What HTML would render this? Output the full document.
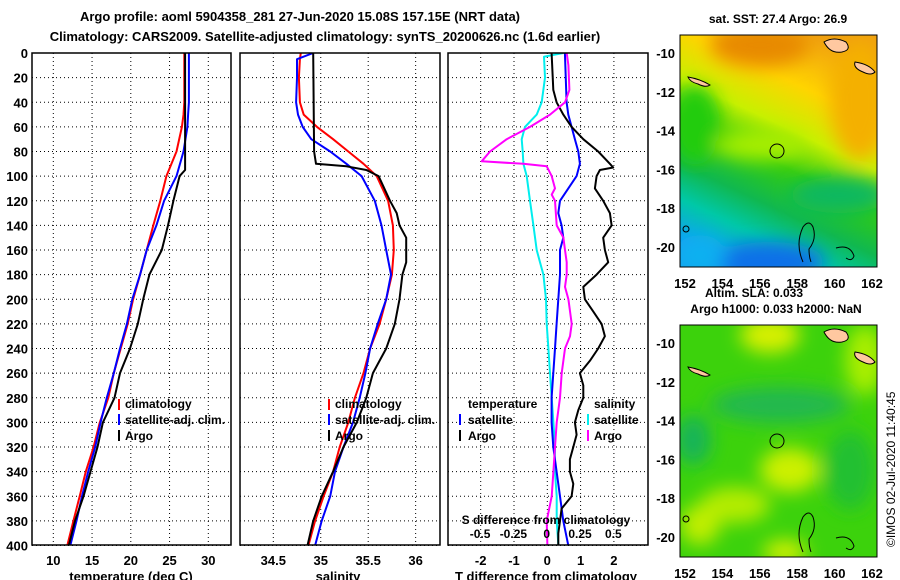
<!DOCTYPE html>
<html><head><meta charset="utf-8"><style>
html,body{margin:0;padding:0;background:#fff;}
svg{display:block;font-family:"Liberation Sans",Arial,sans-serif;font-weight:bold;}
</style></head><body>
<svg id="chart" width="900" height="580" viewBox="0 0 900 580" xmlns="http://www.w3.org/2000/svg">
<defs>
<filter id="blur8" x="-50%" y="-50%" width="200%" height="200%"><feGaussianBlur stdDeviation="9"/></filter>
<clipPath id="c1"><rect x="32" y="53" width="199" height="492"/></clipPath>
<clipPath id="c2"><rect x="240" y="53" width="200" height="492"/></clipPath>
<clipPath id="c3"><rect x="448" y="53" width="200" height="492"/></clipPath>
<clipPath id="m1"><rect x="680" y="35" width="197" height="232"/></clipPath>
<clipPath id="m2"><rect x="680" y="325" width="197" height="232"/></clipPath>
<linearGradient id="sstg" x1="0.7" y1="0" x2="0.3" y2="1">
<stop offset="0" stop-color="#f0a010"/><stop offset="0.22" stop-color="#ffd400"/><stop offset="0.4" stop-color="#c8f000"/><stop offset="0.55" stop-color="#33cc10"/><stop offset="0.72" stop-color="#10b850"/><stop offset="0.85" stop-color="#00c8a8"/><stop offset="1" stop-color="#10a0f0"/>
</linearGradient>
</defs>
<text x="300" y="21" font-size="13" text-anchor="middle">Argo profile: aoml 5904358_281 27-Jun-2020 15.08S 157.15E (NRT data)</text>
<text x="325" y="41" font-size="13" text-anchor="middle">Climatology: CARS2009. Satellite-adjusted climatology: synTS_20200626.nc (1.6d earlier)</text>
<g id="grids"></g>
<g id="series"></g>
<rect x="32" y="53" width="199" height="492" fill="none" stroke="#000" stroke-width="1.5"/>
<rect x="240" y="53" width="200" height="492" fill="none" stroke="#000" stroke-width="1.5"/>
<rect x="448" y="53" width="200" height="492" fill="none" stroke="#000" stroke-width="1.5"/>
<g id="labels" font-size="13"></g>
<text x="131" y="581" font-size="13" text-anchor="middle">temperature (deg C)</text>
<text x="338" y="581" font-size="13" text-anchor="middle">salinity</text>
<text x="546" y="581" font-size="13" text-anchor="middle">T difference from climatology</text>
<text x="546" y="524" font-size="12" text-anchor="middle">S difference from climatology</text>
<g font-size="12">
<rect x="118" y="399" width="2" height="11" fill="#f00"/><text x="125" y="408">climatology</text>
<rect x="118" y="414" width="2" height="11" fill="#00f"/><text x="125" y="424">satellite-adj. clim.</text>
<rect x="118" y="430" width="2" height="11" fill="#000"/><text x="125" y="440">Argo</text>
</g>
<g font-size="12">
<rect x="328" y="399" width="2" height="11" fill="#f00"/><text x="335" y="408">climatology</text>
<rect x="328" y="414" width="2" height="11" fill="#00f"/><text x="335" y="424">satellite-adj. clim.</text>
<rect x="328" y="430" width="2" height="11" fill="#000"/><text x="335" y="440">Argo</text>
</g>
<g font-size="12">
<text x="468" y="408">temperature</text>
<rect x="459" y="414" width="2" height="11" fill="#00f"/><text x="468" y="424">satellite</text>
<rect x="459" y="430" width="2" height="11" fill="#000"/><text x="468" y="440">Argo</text>
<text x="594" y="408">salinity</text>
<rect x="587" y="414" width="2" height="11" fill="#0ee"/><text x="594" y="424">satellite</text>
<rect x="587" y="430" width="2" height="11" fill="#f0f"/><text x="594" y="440">Argo</text>
</g>

<!-- SST map -->
<text x="778" y="23" font-size="12" text-anchor="middle">sat. SST: 27.4 Argo: 26.9</text>
<g clip-path="url(#m1)">
<rect x="680" y="35" width="197" height="232" fill="url(#sstg)"/>
<g filter="url(#blur8)">
<ellipse cx="760" cy="45" rx="50" ry="22" fill="#e88a00"/>
<ellipse cx="860" cy="100" rx="30" ry="60" fill="#f4b000"/>
<ellipse cx="695" cy="125" rx="25" ry="40" fill="#22cc10"/>
<ellipse cx="760" cy="145" rx="45" ry="15" fill="#a8ee00"/>
<ellipse cx="840" cy="195" rx="50" ry="18" fill="#10b860"/>
<ellipse cx="770" cy="262" rx="55" ry="20" fill="#1070e8"/>
<ellipse cx="700" cy="255" rx="25" ry="20" fill="#10b0f0"/>
</g>
</g>
<g fill="#ffc8a0" stroke="#000" stroke-width="1">
<path d="M824 42 q10 -6 22 0 q6 8 -4 10 q-12 2 -18 -10z"/>
<path d="M855 62 q14 2 20 10 q-4 4 -12 0 q-10 -4 -8 -10z"/>
<path d="M688 77 q12 2 22 8 q-4 3 -12 -1 q-8 -2 -10 -7z"/>
<circle cx="777" cy="151" r="7" fill="none"/>
<path d="M803 262 q-8 -18 0 -35 q6 -8 10 0 q4 12 -4 22 q0 8 2 13" fill="none"/>
<path d="M836 248 q14 -4 18 8 q-2 6 -8 2" fill="none"/>
<circle cx="686" cy="229" r="3" fill="none"/>
</g>
<rect x="680" y="35" width="197" height="232" fill="none" stroke="#000" stroke-width="1"/>
<text x="754" y="297" font-size="12" text-anchor="middle">Altim. SLA: 0.033</text>

<!-- SLA map -->
<text x="776" y="313" font-size="12" text-anchor="middle">Argo h1000: 0.033 h2000: NaN</text>
<g clip-path="url(#m2)">
<rect x="680" y="325" width="197" height="232" fill="#3cd20c"/>
<g filter="url(#blur8)">
<ellipse cx="770" cy="335" rx="30" ry="18" fill="#d8f000"/>
<ellipse cx="865" cy="360" rx="20" ry="35" fill="#a8ee00"/>
<ellipse cx="780" cy="405" rx="70" ry="18" fill="#20b850"/>
<ellipse cx="693" cy="440" rx="18" ry="25" fill="#18b458"/>
<ellipse cx="790" cy="470" rx="30" ry="22" fill="#ccf000"/>
<ellipse cx="735" cy="505" rx="35" ry="18" fill="#b4ec00"/>
<ellipse cx="700" cy="525" rx="20" ry="20" fill="#c0ee00"/>
<ellipse cx="785" cy="552" rx="22" ry="12" fill="#d0f000"/>
<ellipse cx="850" cy="470" rx="25" ry="40" fill="#20c030"/>
</g>
</g>
<g fill="#ffc8a0" stroke="#000" stroke-width="1">
<path d="M824 332 q10 -6 22 0 q6 8 -4 10 q-12 2 -18 -10z"/>
<path d="M855 352 q14 2 20 10 q-4 4 -12 0 q-10 -4 -8 -10z"/>
<path d="M688 367 q12 2 22 8 q-4 3 -12 -1 q-8 -2 -10 -7z"/>
<circle cx="777" cy="441" r="7" fill="none"/>
<path d="M803 552 q-8 -18 0 -35 q6 -8 10 0 q4 12 -4 22 q0 8 2 13" fill="none"/>
<path d="M836 538 q14 -4 18 8 q-2 6 -8 2" fill="none"/>
<circle cx="686" cy="519" r="3" fill="none"/>
</g>
<rect x="680" y="325" width="197" height="232" fill="none" stroke="#000" stroke-width="1"/>
<text transform="translate(895,547) rotate(-90)" font-size="12" font-weight="normal">©IMOS 02-Jul-2020 11:40:45</text>
</svg>
<script>
// ---------- data ----------
const depthTicks = [0,20,40,60,80,100,120,140,160,180,200,220,240,260,280,300,320,340,360,380,400];
const tempTicks = [10,15,20,25,30];
const salTicks = [34.5,35,35.5,36];
const salTickLabels = ["34.5","35","35.5","36"];
const tdiffTicks = [-2,-1,0,1,2];
const sdiffTicks = [-0.5,-0.25,0,0.25,0.5];
const latTicks = [-10,-12,-14,-16,-18,-20];
const lonTicks = [152,154,156,158,160,162];

const stdDepths = [0,20,40,50,60,80,100,120,140,160,180,200,220,240,260,280,300,320,340,360,380,400];
const tempClim = [26.9,26.9,26.9,26.8,26.6,25.9,24.6,23.8,22.9,22.05,21.2,20.3,19.6,18.7,17.8,17.1,16.0,15.2,14.2,13.4,12.6,11.8];
const tempSat  = [27.5,27.5,27.5,27.4,27.3,26.8,25.9,24.3,23.3,22.05,21.2,20.2,19.5,18.6,17.8,16.9,16.1,15.4,14.5,13.7,13.0,12.2];
const argoTDepths = [0,90,95,100,120,140,160,180,200,220,240,260,280,300,320,340,360,380,400];
const tempArgo = [27.0,27.0,27.0,26.3,25.5,24.8,24.0,22.4,21.6,20.9,19.9,18.6,17.9,16.4,15.7,14.8,13.9,12.8,12.0];

const salDepths = [0,5,20,40,50,60,70,80,90,100,120,140,160,180,200,220,240,260,280,300,320,340,360,380,400];
const salClim = [34.79,34.78,34.77,34.78,34.82,34.96,35.13,35.29,35.45,35.59,35.71,35.76,35.77,35.75,35.69,35.62,35.52,35.45,35.36,35.29,35.20,35.13,35.03,34.94,34.87];
const salSat  = [34.92,34.75,34.75,34.74,34.76,34.81,34.90,35.10,35.27,35.43,35.57,35.64,35.69,35.74,35.69,35.60,35.52,35.47,35.41,35.34,35.24,35.15,35.10,35.01,34.94];
const argoSDepths = [0,80,90,92,95,100,120,130,140,150,170,180,200,220,240,260,280,300,320,340,360,380,400];
const salArgo = [34.92,34.93,34.95,35.27,35.48,35.61,35.73,35.80,35.83,35.90,35.90,35.86,35.83,35.78,35.69,35.55,35.48,35.38,35.24,35.13,35.01,34.92,34.86];

const tdSatDepths = [0,40,50,60,70,80,90,100,110,120,130,140,150,160,180,200,220,240,260,280,300,320,340,360,380,400];
const tdSat = [0.53,0.58,0.63,0.73,0.83,0.93,0.98,0.88,0.63,0.38,0.33,0.43,0.48,0.38,0.38,0.33,0.28,0.23,0.18,0.13,0.13,0.18,0.28,0.38,0.48,0.63];
const tdArgoDepths = [0,30,40,50,60,70,80,90,93,95,100,110,120,130,140,150,160,170,180,190,200,210,220,230,240,250,260,270,280,290,300,310,320,330,340,350,360,370,380,390,400];
const tdArgo = [0.13,0.18,0.28,0.48,0.73,1.08,1.53,1.88,1.98,1.58,1.48,1.43,1.68,1.88,1.93,1.68,1.73,1.83,1.48,1.08,1.13,1.38,1.63,1.73,1.53,1.28,0.98,1.08,1.08,0.93,0.83,0.88,0.78,0.68,0.68,0.78,0.73,0.43,0.38,0.33,0.33];
const sdSatDepths = [0,3,20,40,50,60,70,80,90,100,120,140,160,170,180,200,220,240,260,280,300,320,340,360,380,400];
const sdSat = [0.125,-0.02,-0.0125,-0.0375,-0.075,-0.1625,-0.1875,-0.18,-0.175,-0.15,-0.125,-0.1,-0.075,-0.05,-0.025,-0.005,0,0.0125,0.025,0.0375,0.05,0.0625,0.0625,0.075,0.075,0.0875];
const sdArgoDepths = [0,10,30,40,50,60,70,80,88,90,92,100,110,115,120,140,150,160,170,180,190,200,220,230,240,260,280,300,320,340,360,380,400];
const sdArgo = [0.15,0.1625,0.17,0.1375,0.025,-0.125,-0.3,-0.425,-0.4875,-0.175,0,0.0375,0.0625,0.0375,0.0625,0.075,0.125,0.1375,0.15,0.15,0.1375,0.1625,0.1875,0.175,0.1375,0.1125,0.1,0.075,0.0625,0.05,0.0375,0,0.005];

// ---------- scales ----------
const NS = "http://www.w3.org/2000/svg";
const yD = d => 53 + d * (492.5 / 400);
const xT = v => 53.3 + (v - 10) * 7.75;
const xS = v => 273.3 + (v - 34.5) * 94.9;
const xTd = v => 547.3 + v * 33.3;
const xSd = v => 546.7 + v * 133.3;
const yLat1 = v => 53 + (-10 - v) * 19.4;
const yLat2 = v => 343 + (-10 - v) * 19.4;
const xLon = v => 685 + (v - 152) * 18.7;

function mk(tag, attrs, parent) {
  const e = document.createElementNS(NS, tag);
  for (const k in attrs) e.setAttribute(k, attrs[k]);
  parent.appendChild(e);
  return e;
}
const grids = document.getElementById('grids');
const series = document.getElementById('series');
const labels = document.getElementById('labels');

const panels = [[32,231,tempTicks.map(xT)],[240,440,salTicks.map(xS)],[448,648,tdiffTicks.map(xTd)]];
panels.forEach(p => {
  depthTicks.forEach(d => {
    const l = mk('line', {x1:p[0], x2:p[1], y1:yD(d), y2:yD(d), stroke:'#000', 'stroke-width':1, 'stroke-dasharray':'1,3'}, grids);
    
    
  });
  p[2].forEach(x => {
    const l = mk('line', {x1:x, x2:x, y1:53, y2:545, stroke:'#000', 'stroke-width':1, 'stroke-dasharray':'1,3'}, grids);
    
    
  });
});

function line(depths, vals, xf, color, clip, name) {
  const pts = depths.map((d, i) => xf(vals[i]).toFixed(1) + ',' + yD(d).toFixed(1)).join(' ');
  const pl = mk('polyline', {points: pts, fill:'none', stroke:color, 'stroke-width':2, 'clip-path':'url(#' + clip + ')', 'stroke-linejoin':'round'}, series);
  
  
}
line(stdDepths, tempClim, xT, '#f00', 'c1', 'temperature-climatology-line');
line(stdDepths, tempSat, xT, '#00f', 'c1', 'temperature-satellite-line');
line(argoTDepths, tempArgo, xT, '#000', 'c1', 'temperature-argo-line');
line(salDepths, salClim, xS, '#f00', 'c2', 'salinity-climatology-line');
line(salDepths, salSat, xS, '#00f', 'c2', 'salinity-satellite-line');
line(argoSDepths, salArgo, xS, '#000', 'c2', 'salinity-argo-line');
line(sdSatDepths, sdSat, xSd, '#0ee', 'c3', 's-diff-satellite-line');
line(tdSatDepths, tdSat, xTd, '#00f', 'c3', 't-diff-satellite-line');
line(tdArgoDepths, tdArgo, xTd, '#000', 'c3', 't-diff-argo-line');
line(sdArgoDepths, sdArgo, xSd, '#f0f', 'c3', 's-diff-argo-line');

function txt(x, y, s, anchor, name, size) {
  const t = mk('text', {x:x, y:y, 'text-anchor':anchor}, labels);
  if (size) t.setAttribute('font-size', size);
  t.textContent = s;
  
  
}
depthTicks.forEach(d => txt(28, yD(d) + 5, String(d), 'end', 'depth-tick-label'));
tempTicks.forEach(v => txt(xT(v), 565, String(v), 'middle', 'temperature-tick-label'));
salTicks.forEach((v, i) => txt(xS(v), 565, salTickLabels[i], 'middle', 'salinity-tick-label'));
tdiffTicks.forEach(v => txt(xTd(v), 565, String(v), 'middle', 't-diff-tick-label'));
sdiffTicks.forEach(v => txt(xSd(v), 538, String(v), 'middle', 's-diff-tick-label', 12));
latTicks.forEach(v => txt(675, yLat1(v) + 5, String(v), 'end', 'sst-lat-label'));
latTicks.forEach(v => txt(675, yLat2(v) + 5, String(v), 'end', 'sla-lat-label'));
lonTicks.forEach(v => txt(xLon(v), 288, String(v), 'middle', 'sst-lon-label'));
lonTicks.forEach(v => txt(xLon(v), 578, String(v), 'middle', 'sla-lon-label'));
</script>
</body></html>
